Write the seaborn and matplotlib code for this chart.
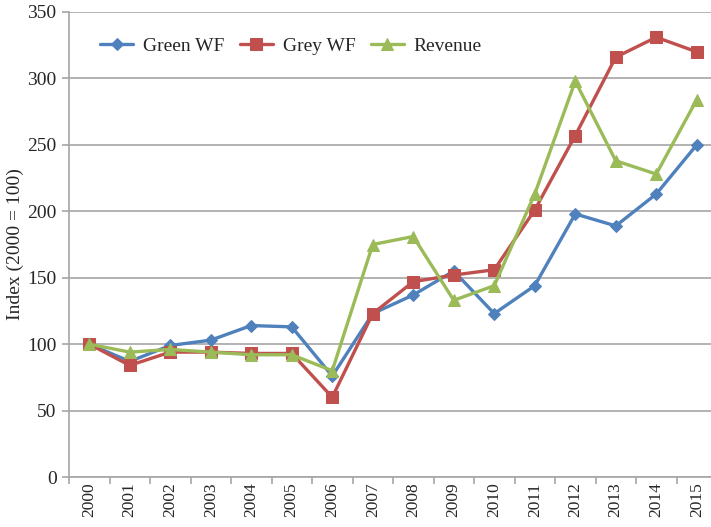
import pandas as pd
import matplotlib.pyplot as plt
import seaborn as sns
import numpy as np
from matplotlib.ticker import FixedLocator

years = list(range(2000, 2016))
green_wf = [100, 87, 99, 103, 114, 113, 76, 123, 137, 155, 123, 144, 198, 189, 213, 250]
grey_wf = [100, 84, 94, 94, 93, 93, 60, 123, 147, 152, 156, 201, 257, 316, 331, 320]
revenue = [100, 94, 96, 94, 92, 92, 80, 175, 181, 133, 144, 213, 298, 238, 228, 284]

series = ['Green WF', 'Grey WF', 'Revenue']
colors = ['#4F81BD', '#C0504D', '#9BBB59']
markers = ['D', 's', '^']
msizes = [6, 8.5, 8.5]

df = pd.DataFrame({'Year': years, 'Green WF': green_wf, 'Grey WF': grey_wf, 'Revenue': revenue})
long_df = df.melt(id_vars='Year', var_name='Series', value_name='Index')

sns.set_style('white')
plt.rcParams['font.family'] = ['Liberation Serif', 'DejaVu Serif']

fig = plt.figure(figsize=(7.11, 5.27), dpi=100)
ax = fig.add_axes([69 / 711, 1 - 477 / 527, 648 / 711, 465 / 527])

for name, c, m, ms in zip(series, colors, markers, msizes):
    sub = long_df[long_df['Series'] == name]
    sns.lineplot(data=sub, x='Year', y='Index', ax=ax, color=c, marker=m,
                 markersize=ms, markeredgecolor=c, linewidth=2.4, label=name)

ax.set_ylim(0, 350)
ax.set_yticks(np.arange(0, 351, 50))
ax.set_xlim(years[0] - 0.5, years[-1] + 0.5)
ax.set_xticks(years)
ax.set_xticklabels([str(y) for y in years], rotation=90)
ax.xaxis.set_minor_locator(FixedLocator(np.arange(years[0] - 0.5, years[-1] + 1, 1)))
ax.tick_params(axis='x', which='major', length=0, pad=4, labelsize=12.5)
ax.tick_params(axis='x', which='minor', length=5, color='#A6A6A6', width=1.2, bottom=True)
ax.tick_params(axis='y', length=5, color='#A6A6A6', width=1.2, left=True, labelsize=14, pad=4)

ax.grid(axis='y', color='#A6A6A6', linewidth=1.2)
ax.set_axisbelow(True)
for s in ['top', 'right']:
    ax.spines[s].set_visible(False)
for s in ['left', 'bottom']:
    ax.spines[s].set_color('#A6A6A6')
    ax.spines[s].set_linewidth(1.2)

ax.set_xlabel('')
ax.set_ylabel('Index (2000 = 100)', fontsize=14, labelpad=2)

ax.legend(loc='upper left', bbox_to_anchor=(0.048, 0.945), ncol=3, frameon=False,
          fontsize=14, handlelength=1.7, columnspacing=0.8, handletextpad=0.5,
          borderaxespad=0, borderpad=0)

fig.savefig('out.png', dpi=100)
